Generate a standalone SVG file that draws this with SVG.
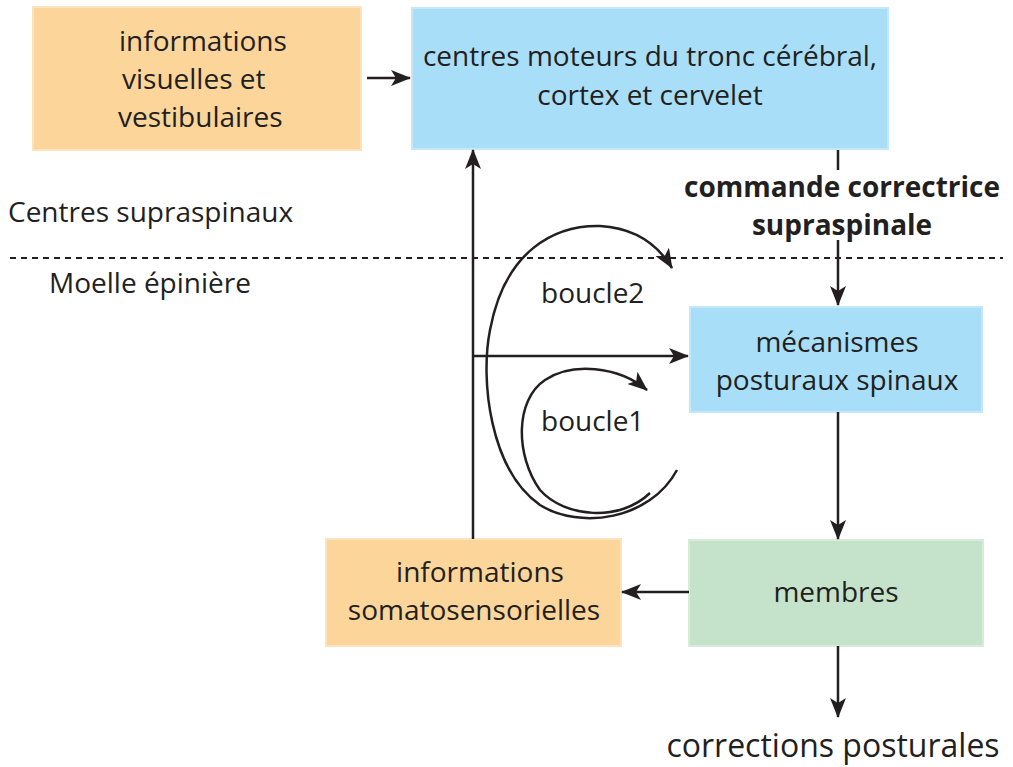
<svg xmlns="http://www.w3.org/2000/svg" width="1013" height="767" viewBox="0 0 1013 767">
<style>
.t{font-family:"Open Sans","Liberation Sans",sans-serif;font-size:28px;fill:#231f20}
.b{font-weight:bold}
.c{text-anchor:middle}
.ln{stroke:#231f20;stroke-width:2.5;fill:none}
.or{fill:#fcd59b;stroke:#fde3bd;stroke-width:2}
.bl{fill:#a8def8;stroke:#c4e8fa;stroke-width:2}
.gr{fill:#c5e3cb;stroke:#d6ecd9;stroke-width:2}
</style>
<defs>
<marker id="ah" viewBox="0 0 20 16" refX="19" refY="8" markerWidth="20" markerHeight="16" markerUnits="userSpaceOnUse" orient="auto">
<path d="M0,0 L20,8 L0,16 L5,8 z" fill="#231f20"/>
</marker>
</defs>
<rect width="1013" height="767" fill="#fff"/>
<g id="n1"><rect class="or" x="33" y="7" width="328" height="143"/>
<text class="t" x="119" y="51">informations</text>
<text class="t" x="122" y="89">visuelles et</text>
<text class="t" x="118" y="127">vestibulaires</text></g>
<g id="n2"><rect class="bl" x="412" y="8" width="476" height="141"/>
<text class="t c" x="650" y="66">centres moteurs du tronc cérébral,</text>
<text class="t c" x="650" y="105">cortex et cervelet</text></g>
<g id="n3"><rect class="bl" x="690" y="307" width="292" height="105"/>
<text class="t c" x="837" y="352">mécanismes</text>
<text class="t c" x="837" y="390">posturaux spinaux</text></g>
<g id="n4"><rect class="or" x="326" y="539" width="295" height="107"/>
<text class="t c" x="480" y="582">informations</text>
<text class="t c" x="474" y="620">somatosensorielles</text></g>
<g id="n5"><rect class="gr" x="689" y="540" width="294" height="106"/>
<text class="t c" x="836" y="602">membres</text></g>
<g id="labels">
<text class="t b c" x="842" y="197">commande correctrice</text>
<text class="t b c" x="842" y="235">supraspinale</text>
<text class="t" x="8" y="222">Centres supraspinaux</text>
<text class="t" x="49" y="293">Moelle épinière</text>
<text class="t" x="541" y="303">boucle2</text>
<text class="t" x="541" y="431">boucle1</text>
<text class="t c" x="833" y="757" style="font-size:32px">corrections posturales</text>
</g>
<line x1="10" y1="258" x2="1003" y2="258" stroke="#231f20" stroke-width="2" stroke-dasharray="6,5"/>
<g id="connectors">
<line class="ln" x1="367" y1="78" x2="410" y2="78" marker-end="url(#ah)"/>
<line class="ln" x1="838" y1="150" x2="838" y2="170"/>
<line class="ln" x1="838" y1="240" x2="838" y2="305" marker-end="url(#ah)"/>
<line class="ln" x1="473" y1="539" x2="473" y2="150" marker-end="url(#ah)"/>
<line class="ln" x1="473" y1="356" x2="688" y2="356" marker-end="url(#ah)"/>
<line class="ln" x1="838" y1="412" x2="838" y2="539" marker-end="url(#ah)"/>
<line class="ln" x1="689" y1="592" x2="622" y2="592" marker-end="url(#ah)"/>
<line class="ln" x1="838" y1="646" x2="838" y2="717" marker-end="url(#ah)"/>
<path class="ln" d="M677 470 C650 520,580 530,540 505 C490 470,480 380,490 330 C505 250,555 225,600 226 C635 228,658 245,672 268" marker-end="url(#ah)"/>
<path class="ln" d="M650 493 C620 522,565 518,540 490 C515 455,515 400,545 380 C572 362,618 366,647 390" marker-end="url(#ah)"/>
</g>
</svg>
